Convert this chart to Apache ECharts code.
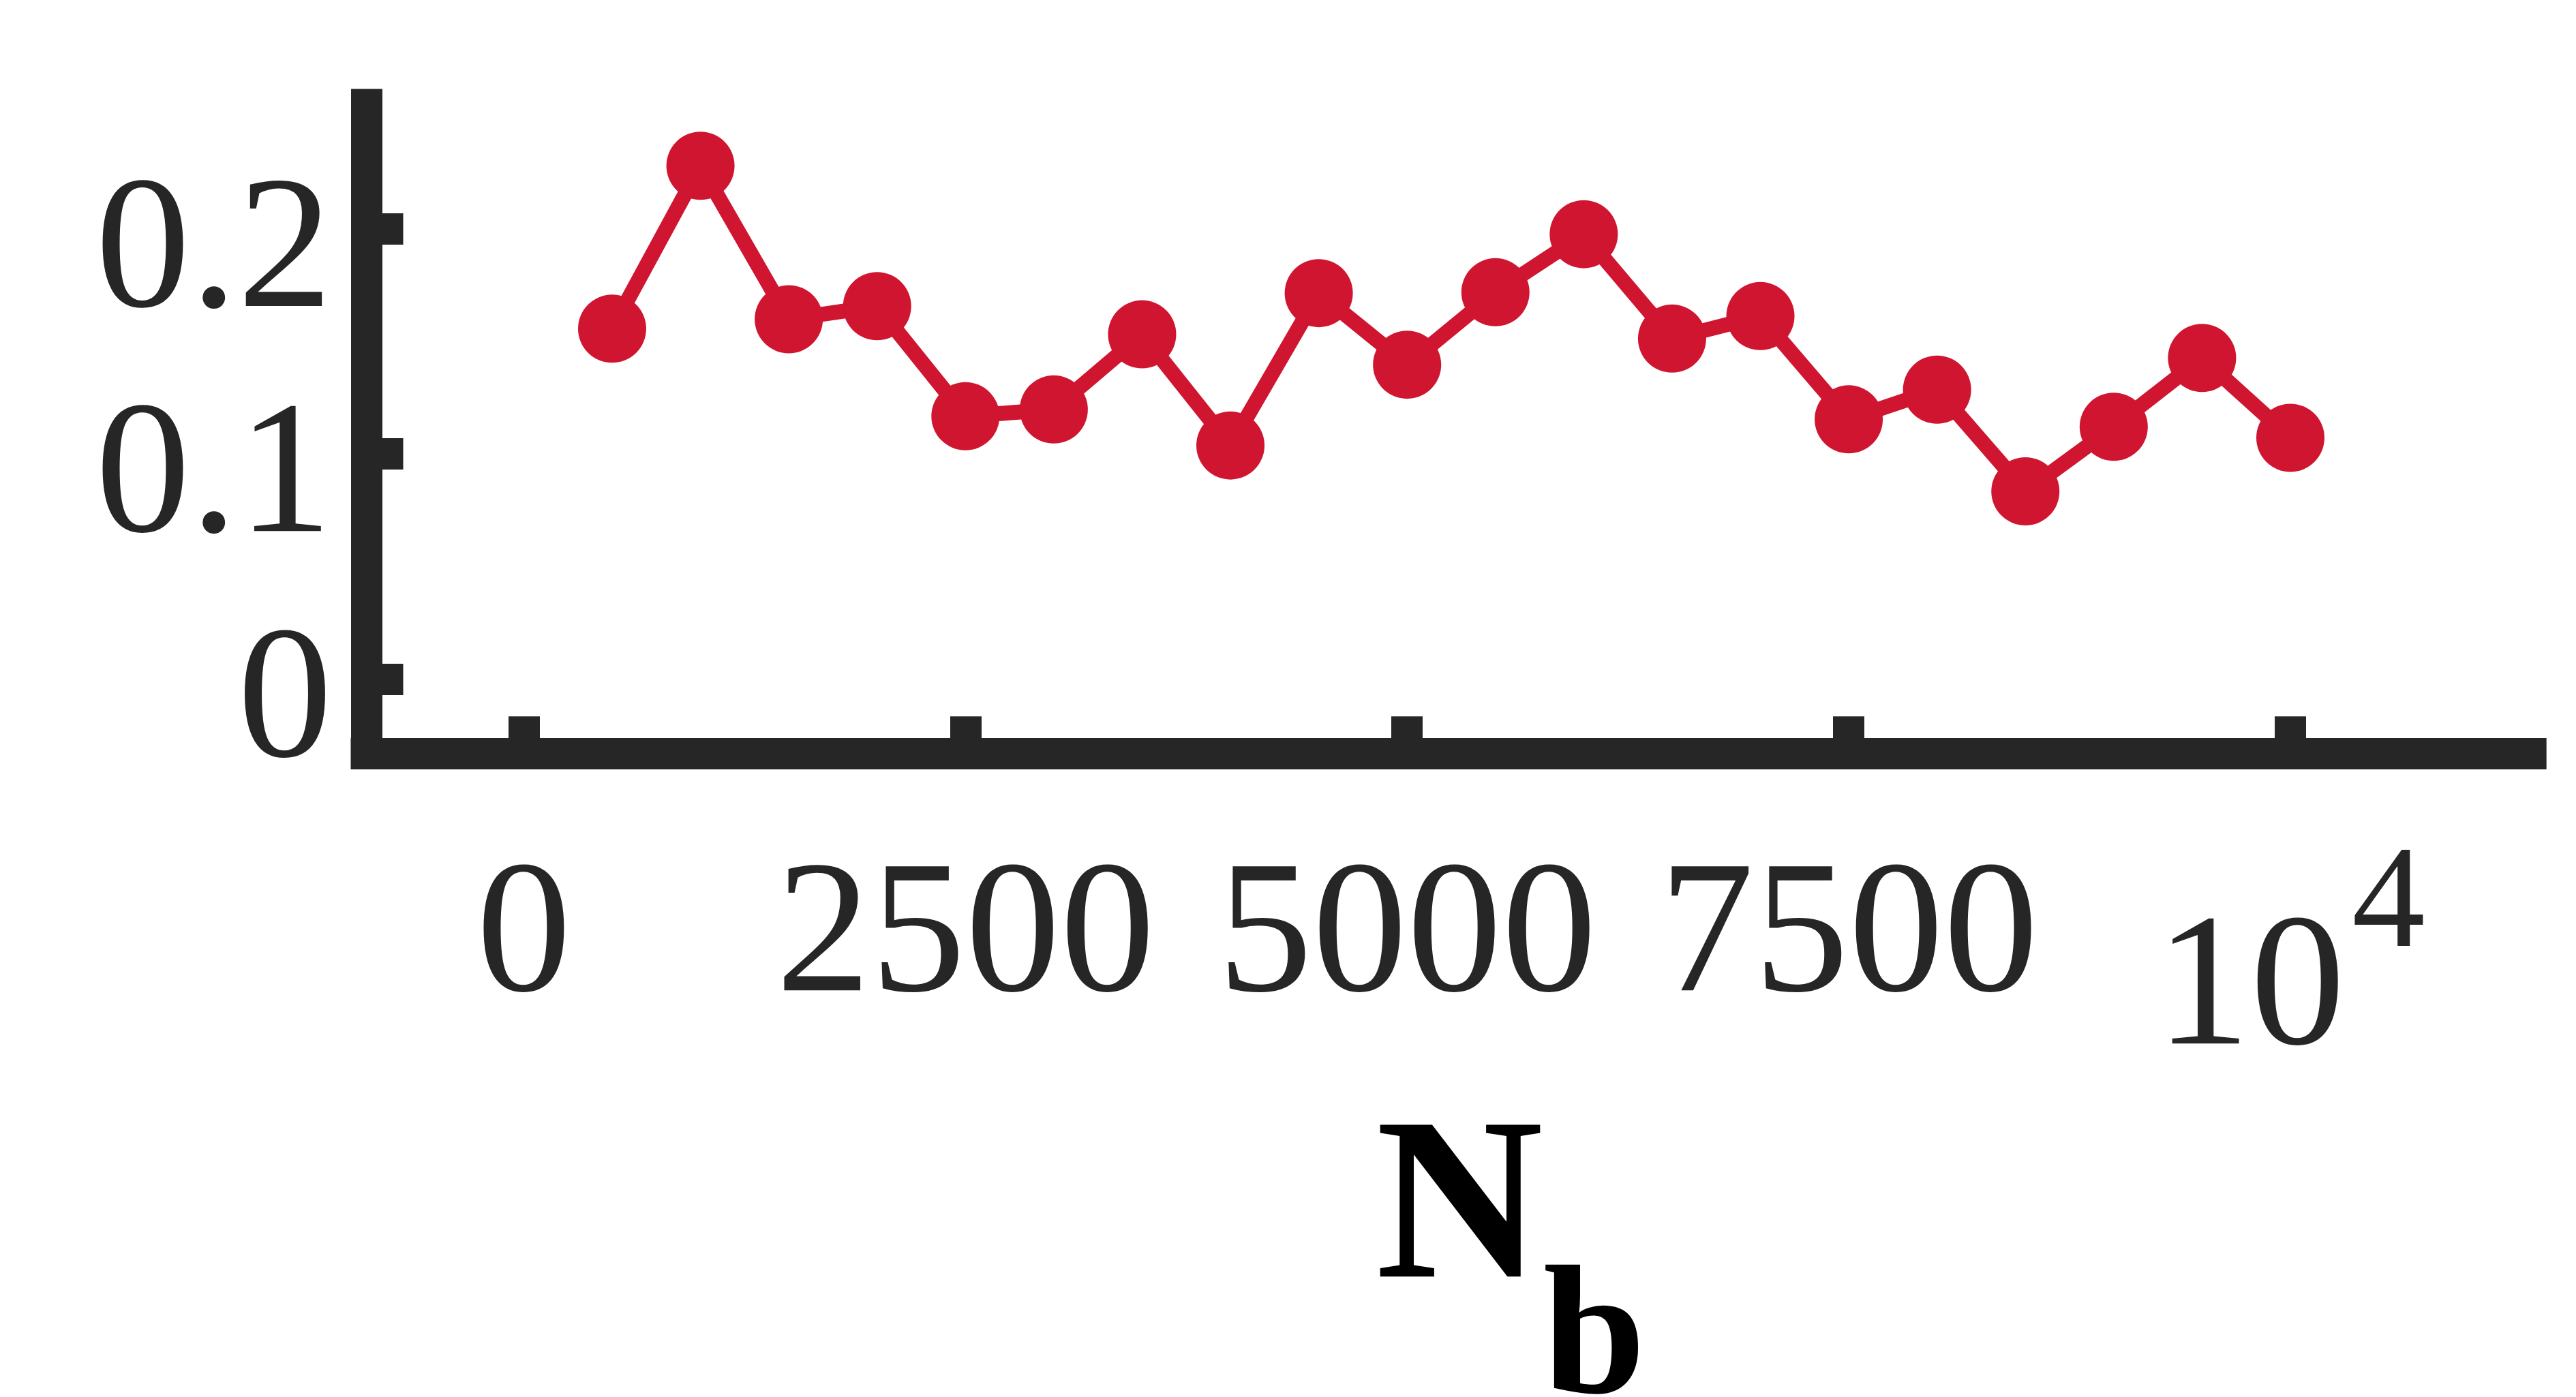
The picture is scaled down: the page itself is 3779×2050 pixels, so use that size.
<!DOCTYPE html>
<html>
<head>
<meta charset="utf-8">
<script src="https://cdn.jsdelivr.net/npm/echarts@6/dist/echarts.min.js"></script>
<style>
  html, body { margin: 0; padding: 0; background: #fff; }
  #chart { width: 3779px; height: 2050px; }
</style>
</head>
<body>
<div id="chart"></div>
<script>
// data
const nbValues = [500, 1000, 1500, 2000, 2500, 3000, 3500, 4000, 4500, 5000,
  5500, 6000, 6500, 7000, 7500, 8000, 8500, 9000, 9500, 10000];
const yValues = [0.1557, 0.2281, 0.1599, 0.1657, 0.1168, 0.1198, 0.1532, 0.1038, 0.1715, 0.1397,
  0.1719, 0.1977, 0.1513, 0.1613, 0.1154, 0.1286, 0.0834, 0.1121, 0.1427, 0.1072];
const xTicks = [0, 2500, 5000, 7500, 10000];
const yTicks = [0, 0.1, 0.2];

const axisColor = "#262626";
const red = "#D01530";
const serif = "Liberation Serif, Tinos, Times New Roman, DejaVu Serif, serif";

const chart = echarts.init(document.getElementById("chart"));

const option = {
  backgroundColor: "#fff",
  animation: false,
  grid: { left: 537.5, right: 66.3, top: 153.5, bottom: 944.7, outerBoundsMode: "none", containLabel: false },
  xAxis: {
    type: "value",
    min: -891,
    max: 11361,
    name: "{n|N}{s|b}",
    nameLocation: "middle",
    nameGap: 510,
    nameTextStyle: {
      rich: {
        n: { fontFamily: serif, fontSize: 340, fontWeight: "bold", color: "#000",
             verticalAlign: "top", padding: [0, 0, 0, 182] },
        s: { fontFamily: serif, fontSize: 270, fontWeight: "bold", color: "#000",
             verticalAlign: "top", padding: [223, 0, 0, 0] }
      }
    },
    axisLine: { onZero: false, lineStyle: { color: axisColor, width: 46, cap: "square" } },
    axisTick: { inside: true, length: 54, customValues: xTicks,
                lineStyle: { color: axisColor, width: 46 } },
    axisLabel: {
      customValues: xTicks,
      margin: 119,
      fontFamily: serif,
      fontSize: 278,
      color: axisColor,
      // 10^4 drawn MATLAB-style, base lowered and exponent raised
      formatter: (v) => (v === 10000 ? "{b|10}{p|4}" : "{a|" + v + "}"),
      rich: {
        a: { fontFamily: serif, fontSize: 278, color: axisColor,
             verticalAlign: "top", padding: [17, 0, 0, 0] },
        b: { fontFamily: serif, fontSize: 278, color: axisColor,
             verticalAlign: "top", padding: [95, 0, 0, 0] },
        p: { fontFamily: serif, fontSize: 215, color: axisColor,
             verticalAlign: "top", padding: [0, 0, 0, 10] }
      }
    },
    splitLine: { show: false }
  },
  yAxis: {
    type: "value",
    min: -0.033,
    max: 0.2553,
    axisLine: { onZero: false, lineStyle: { color: axisColor, width: 46, cap: "square" } },
    axisTick: { inside: true, length: 54, customValues: yTicks,
                lineStyle: { color: axisColor, width: 46 } },
    axisLabel: {
      customValues: yTicks,
      margin: 50,
      fontFamily: serif,
      fontSize: 278,
      color: axisColor,
      formatter: (v) => "{a|" + v + "}",
      rich: {
        a: { fontFamily: serif, fontSize: 278, color: axisColor, padding: [80, 0, 0, 0] }
      }
    },
    splitLine: { show: false }
  },
  series: [
    {
      type: "line",
      data: nbValues.map((x, i) => [x, yValues[i]]),
      symbol: "circle",
      symbolSize: 100,
      lineStyle: { color: red, width: 22 },
      itemStyle: { color: red },
      z: 3
    }
  ]
};

chart.setOption(option);
</script>
</body>
</html>
